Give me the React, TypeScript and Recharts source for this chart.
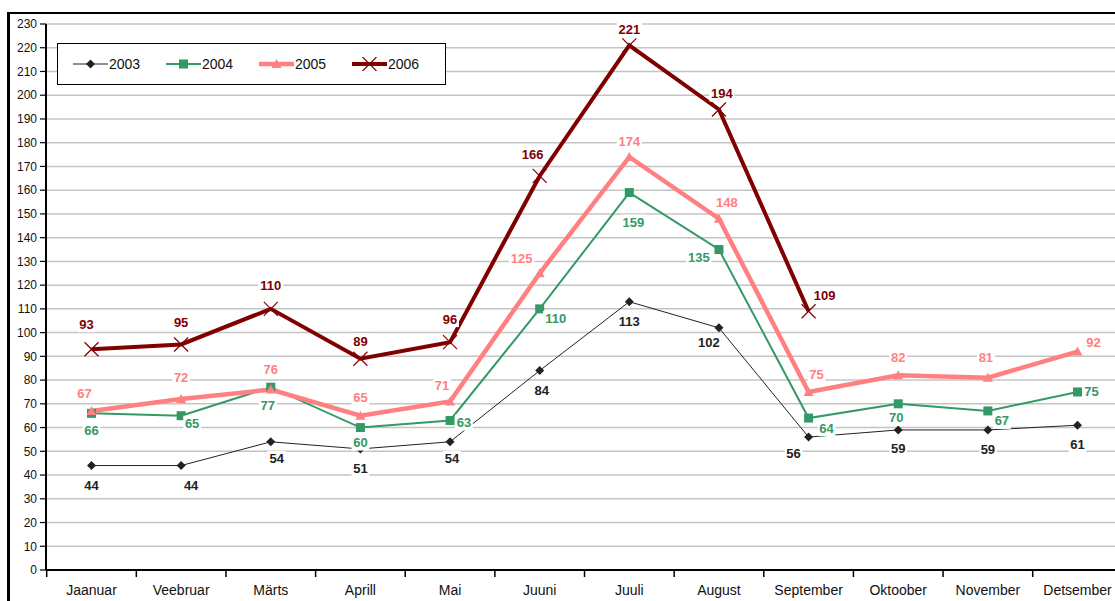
import React from "react";
import { CartesianGrid, LabelList, Legend, Line, LineChart, XAxis, YAxis } from "recharts";

const months = ["Jaanuar", "Veebruar", "Märts", "Aprill", "Mai", "Juuni", "Juuli", "August", "September", "Oktoober", "November", "Detsember"];
const y2003 = [44, 44, 54, 51, 54, 84, 113, 102, 56, 59, 59, 61];
const y2004 = [66, 65, 77, 60, 63, 110, 159, 135, 64, 70, 67, 75];
const y2005 = [67, 72, 76, 65, 71, 125, 174, 148, 75, 82, 81, 92];
const y2006 = [93, 95, 110, 89, 96, 166, 221, 194, 109, null, null, null];
const yTicks = [0, 10, 20, 30, 40, 50, 60, 70, 80, 90, 100, 110, 120, 130, 140, 150, 160, 170, 180, 190, 200, 210, 220, 230];
const seriesNames = ["2003", "2004", "2005", "2006"];

const data = months.map((m, i) => ({
	month: m,
	"2003": y2003[i],
	"2004": y2004[i],
	"2005": y2005[i],
	"2006": y2006[i],
}));

// label offsets (dx, dy) from the point, per series
const labelOffsets: Record<string, number[][]> = {
	"2003": [[0, 20], [10, 20], [6, 17], [0, 20], [2, 17], [2, 20], [0, 20], [-10, 15], [-15, 16], [0, 19], [0, 20], [0, 19]],
	"2004": [[0, 17], [11, 8], [-3, 18], [0, 15], [14, 2], [16, 10], [4, 30], [-20, 8], [18, 10], [-2, 14], [14, 10], [14, 0]],
	"2005": [[-7, -17], [0, -22], [0, -20], [0, -18], [-8, -16], [-18, -15], [0, -15], [8, -16], [8, -17], [0, -18], [-2, -20], [16, -9]],
	"2006": [[-5, -25], [0, -22], [0, -23], [0, -17], [0, -23], [-7, -21], [0, -16], [3, -16], [16, -16], [0, 0], [0, 0], [0, 0]],
};

const styles: Record<string, { color: string; width: number; marker: string }> = {
	"2003": { color: "#222222", width: 1, marker: "diamond" },
	"2004": { color: "#339966", width: 2, marker: "square" },
	"2005": { color: "#ff8080", width: 4.5, marker: "triangle" },
	"2006": { color: "#800000", width: 4, marker: "cross" },
};

const FONT = "'Liberation Sans', Arial, sans-serif";

function Marker({ kind, cx, cy, color }: { kind: string; cx: number; cy: number; color: string }) {
	if (kind === "diamond") {
		return <path d={`M${cx},${cy - 4.5} L${cx + 4.5},${cy} L${cx},${cy + 4.5} L${cx - 4.5},${cy} Z`} fill={color} />;
	}
	if (kind === "square") {
		return <rect x={cx - 4.5} y={cy - 4.5} width={9} height={9} fill={color} />;
	}
	if (kind === "triangle") {
		return <path d={`M${cx},${cy - 5} L${cx + 5},${cy + 4} L${cx - 5},${cy + 4} Z`} fill={color} />;
	}
	return (
		<g stroke={color} strokeWidth={1.2}>
			<line x1={cx - 7} y1={cy - 7} x2={cx + 7} y2={cy + 7} />
			<line x1={cx - 7} y1={cy + 7} x2={cx + 7} y2={cy - 7} />
		</g>
	);
}

function makeDot(name: string) {
	const st = styles[name];
	return (p: any) => {
		if (p.cx == null || p.cy == null || p.value == null) return <g key={`d-${name}-${p.index}`} />;
		return (
			<g key={`d-${name}-${p.index}`}>
				<Marker kind={st.marker} cx={p.cx} cy={p.cy} color={st.color} />
			</g>
		);
	};
}

function makeLabel(name: string) {
	const st = styles[name];
	return (p: any) => {
		if (p.value == null || p.x == null) return null;
		const [dx, dy] = labelOffsets[name][p.index] || [0, -18];
		const txt = String(p.value);
		const w = txt.length * 7.4 + 3;
		const cx = p.x + dx;
		const cy = p.y + dy;
		return (
			<g key={`l-${name}-${p.index}`}>
				<rect x={cx - w / 2} y={cy - 8} width={w} height={16} fill="#ffffff" />
				<text x={cx} y={cy} textAnchor="middle" dominantBaseline="central" fill={st.color} fontSize={13} fontWeight="bold" fontFamily={FONT}>
					{txt}
				</text>
			</g>
		);
	};
}

const XTick = (props: any) => {
	const { x, y, payload } = props;
	return (
		<g>
			<line x1={x - 44.8} y1={y} x2={x - 44.8} y2={y + 7} stroke="#000" strokeWidth={1.5} />
			<text x={x} y={y + 20} textAnchor="middle" dominantBaseline="central" fontSize={14} fill="#111" fontFamily={FONT}>
				{payload.value}
			</text>
		</g>
	);
};

const LegendBox = () => (
	<div
		style={{
			width: 389,
			height: 42,
			boxSizing: "border-box",
			border: "1.5px solid #000",
			background: "#fff",
			display: "flex",
			alignItems: "center",
			paddingLeft: 15,
			fontFamily: FONT,
			fontSize: 14,
			color: "#111",
		}}
	>
		{seriesNames.map((n) => {
			const st = styles[n];
			return (
				<div key={n} style={{ display: "flex", alignItems: "center", width: 97 }}>
					<svg width={35} height={14}>
						<line x1={0} y1={7} x2={35} y2={7} stroke={st.color} strokeWidth={st.width} />
						<Marker kind={st.marker} cx={17.5} cy={7} color={st.color} />
					</svg>
					<span style={{ marginLeft: 1 }}>{n}</span>
				</div>
			);
		})}
	</div>
);

export default function App() {
	return (
		<div style={{ position: "absolute", left: 0, top: 0, width: 1115, height: 601, overflow: "hidden", background: "#fff" }}>
			<style>{"html,body{overflow:hidden;}"}</style>
			<div
				style={{
					position: "absolute",
					left: 7,
					top: 12,
					width: 1125,
					height: 589,
					borderLeft: "3px solid #000",
					borderTop: "2px solid #000",
					overflow: "hidden",
				}}
			>
				<LineChart width={1113} height={586} data={data} margin={{ top: 10, right: 0, left: 0, bottom: 0 }}>
					<CartesianGrid vertical={false} stroke="#c4c4c4" strokeWidth={1.5} />
					<XAxis
						dataKey="month"
						padding={{ left: 45.5, right: 45.5 }}
						height={30}
						tickSize={0}
						tickMargin={0}
						tickLine={false}
						axisLine={{ stroke: "#000", strokeWidth: 2 }}
						tick={<XTick />}
						interval={0}
					/>
					<YAxis
						width={36}
						domain={[0, 230]}
						ticks={yTicks}
						interval={0}
						tickSize={6}
						tickMargin={3}
						axisLine={{ stroke: "#000", strokeWidth: 2 }}
						tickLine={{ stroke: "#000", strokeWidth: 1.2 }}
						tick={{ fontSize: 12, fill: "#111", fontFamily: FONT }}
					/>
					<Legend
						layout="horizontal"
						verticalAlign="middle"
						content={() => <LegendBox />}
						wrapperStyle={{ position: "absolute", left: 47, top: 29, width: 389, height: 42 }}
					/>
					{seriesNames.map((n) => (
						<Line
							key={n}
							type="linear"
							dataKey={n}
							stroke={styles[n].color}
							strokeWidth={styles[n].width}
							dot={makeDot(n)}
							activeDot={false}
							isAnimationActive={false}
						>
							<LabelList dataKey={n} content={makeLabel(n)} />
						</Line>
					))}
				</LineChart>
			</div>
		</div>
	);
}
